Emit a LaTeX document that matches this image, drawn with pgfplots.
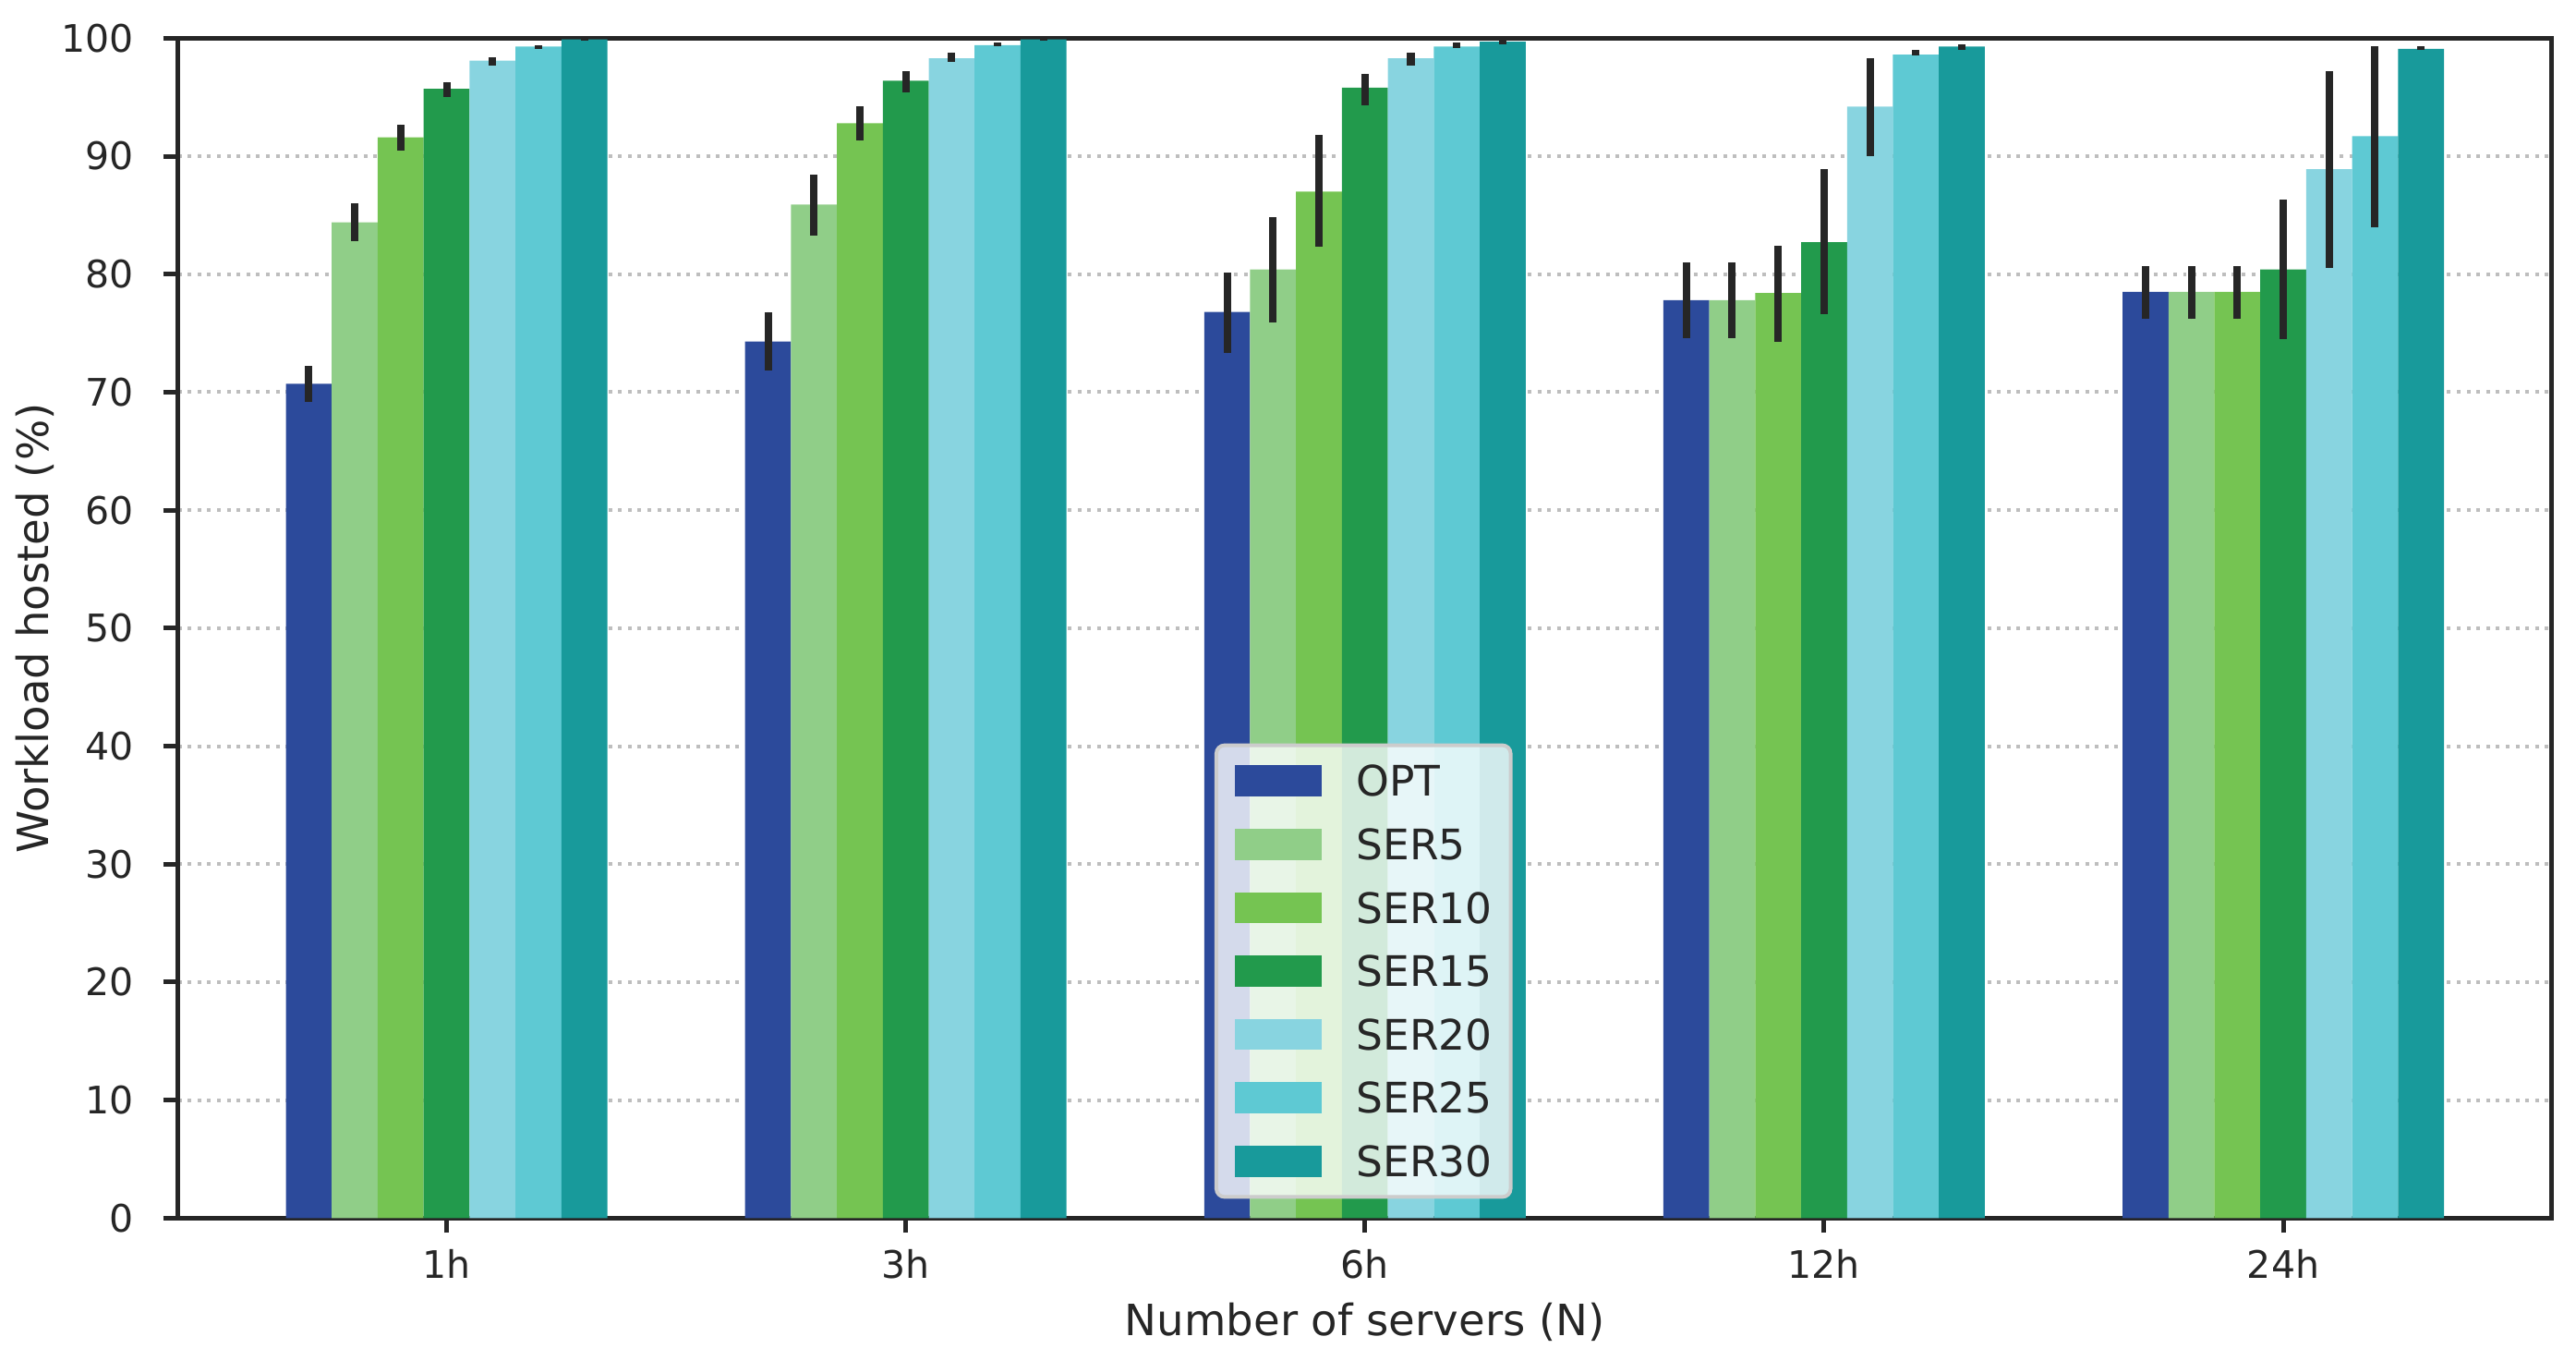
\documentclass[border=0pt]{standalone}
\usepackage{pgfplots}
\usepackage{pgfplotstable}
\pgfplotsset{compat=1.18}
\usepackage{fontspec}
\setmainfont{DejaVu Sans}

\definecolor{cOPT}{RGB}{44,74,155}
\definecolor{cS5}{RGB}{144,206,136}
\definecolor{cS10}{RGB}{117,196,82}
\definecolor{cS15}{RGB}{34,154,76}
\definecolor{cS20}{RGB}{136,212,224}
\definecolor{cS25}{RGB}{94,201,211}
\definecolor{cS30}{RGB}{24,154,155}
\definecolor{axisc}{RGB}{38,38,38}
\definecolor{gridc}{RGB}{190,190,190}
\definecolor{legc}{RGB}{204,204,204}

% g = group index (0=1h,1=3h,2=6h,3=12h,4=24h), y = mean, lo/hi = error bar ends
\pgfplotstableread{
g y lo hi
0 70.7 69.2 72.2
1 74.3 71.8 76.8
2 76.8 73.3 80.1
3 77.8 74.6 81.0
4 78.5 76.2 80.7
}\tOPT
\pgfplotstableread{
g y lo hi
0 84.4 82.8 86.0
1 85.9 83.3 88.4
2 80.4 75.9 84.8
3 77.8 74.6 81.0
4 78.5 76.2 80.7
}\tSa
\pgfplotstableread{
g y lo hi
0 91.6 90.5 92.7
1 92.8 91.3 94.2
2 87.0 82.3 91.8
3 78.4 74.3 82.4
4 78.5 76.2 80.7
}\tSb
\pgfplotstableread{
g y lo hi
0 95.7 95.0 96.3
1 96.4 95.4 97.2
2 95.8 94.3 97.0
3 82.7 76.6 88.9
4 80.4 74.5 86.3
}\tSc
\pgfplotstableread{
g y lo hi
0 98.1 97.7 98.4
1 98.3 98.0 98.8
2 98.3 97.7 98.8
3 94.2 90.0 98.3
4 88.9 80.5 97.2
}\tSd
\pgfplotstableread{
g y lo hi
0 99.3 99.1 99.4
1 99.4 99.3 99.6
2 99.3 99.2 99.6
3 98.6 98.5 99.0
4 91.7 84.0 99.3
}\tSe
\pgfplotstableread{
g y lo hi
0 99.9 99.8 100.0
1 99.9 99.8 100.0
2 99.7 99.5 100.0
3 99.3 99.0 99.5
4 99.1 99.0 99.3
}\tSf

\begin{document}
\begin{tikzpicture}
\path[use as bounding box] (0,0) rectangle (748pt,394.8pt);
\begin{axis}[
  at={(51.68pt,41.22pt)}, anchor=south west,
  scale only axis, width=689.3pt, height=342.5pt,
  xmin=-0.585, xmax=4.585, ymin=0, ymax=100,
  xtick={0,1,2,3,4}, xticklabels={1h,3h,6h,12h,24h},
  ytick={0,10,...,100},
  xtick pos=bottom, ytick pos=left,
  tick align=outside, major tick length=4.3pt,
  tick style={line width=1.34pt, color=axisc},
  axis line style={line width=1.34pt, color=axisc},
  ymajorgrids,
  grid style={line width=1.07pt, color=gridc, dash pattern=on 1.07pt off 1.77pt},
  /pgf/number format/assume math mode=true,
  ticklabel style={font=\fontsize{11}{13}\selectfont, text=axisc},
  xticklabel style={anchor=base, yshift=-13.1pt},
  yticklabel style={anchor=east, xshift=-5.0pt},
  every axis x label/.style={at={(axis description cs:0.5,0)}, anchor=base, yshift=-34.0pt, font=\fontsize{12.5}{15}\selectfont, text=axisc},
  every axis y label/.style={at={(axis description cs:-0.05436,0.5)}, rotate=90, anchor=base, font=\fontsize{12.5}{15}\selectfont, text=axisc},
  xlabel={Number of servers (N)},
  ylabel={Workload hosted (\%)},
  ybar, bar width=0.1,
  error bars/y dir=both, error bars/y explicit,
  error bars/error mark=none,
  error bars/error bar style={line width=2.15pt, color=axisc},
  legend image code/.code={\fill[#1, draw=none, fill opacity=1, sharp corners] (0pt,-4.5pt) rectangle (25.4pt,4.5pt);},
  legend cell align=left,
  legend style={at={(0.4994,0.0164)}, anchor=south,
    draw=legc, line width=1.07pt, fill=white, fill opacity=0.8, text opacity=1,
    rounded corners=2.4pt, inner xsep=5.3pt, inner ysep=5.85pt,
    row sep=9.4pt, column sep=10pt,
    font=\fontsize{12.2}{15}\selectfont, text=axisc,
    nodes={inner sep=0pt, text height=8.9pt, text depth=0pt}},
]
\addplot[fill=cOPT, draw=none, bar shift=0pt] table[x expr=\thisrow{g}-0.3, y=y, y error plus expr=\thisrow{hi}-\thisrow{y}, y error minus expr=\thisrow{y}-\thisrow{lo}] {\tOPT};
\addlegendentry{OPT}
\addplot[fill=cS5, draw=none, bar shift=0pt] table[x expr=\thisrow{g}-0.2, y=y, y error plus expr=\thisrow{hi}-\thisrow{y}, y error minus expr=\thisrow{y}-\thisrow{lo}] {\tSa};
\addlegendentry{SER5}
\addplot[fill=cS10, draw=none, bar shift=0pt] table[x expr=\thisrow{g}-0.1, y=y, y error plus expr=\thisrow{hi}-\thisrow{y}, y error minus expr=\thisrow{y}-\thisrow{lo}] {\tSb};
\addlegendentry{SER10}
\addplot[fill=cS15, draw=none, bar shift=0pt] table[x expr=\thisrow{g}, y=y, y error plus expr=\thisrow{hi}-\thisrow{y}, y error minus expr=\thisrow{y}-\thisrow{lo}] {\tSc};
\addlegendentry{SER15}
\addplot[fill=cS20, draw=none, bar shift=0pt] table[x expr=\thisrow{g}+0.1, y=y, y error plus expr=\thisrow{hi}-\thisrow{y}, y error minus expr=\thisrow{y}-\thisrow{lo}] {\tSd};
\addlegendentry{SER20}
\addplot[fill=cS25, draw=none, bar shift=0pt] table[x expr=\thisrow{g}+0.2, y=y, y error plus expr=\thisrow{hi}-\thisrow{y}, y error minus expr=\thisrow{y}-\thisrow{lo}] {\tSe};
\addlegendentry{SER25}
\addplot[fill=cS30, draw=none, bar shift=0pt] table[x expr=\thisrow{g}+0.3, y=y, y error plus expr=\thisrow{hi}-\thisrow{y}, y error minus expr=\thisrow{y}-\thisrow{lo}] {\tSf};
\addlegendentry{SER30}
\end{axis}
\end{tikzpicture}
\end{document}
